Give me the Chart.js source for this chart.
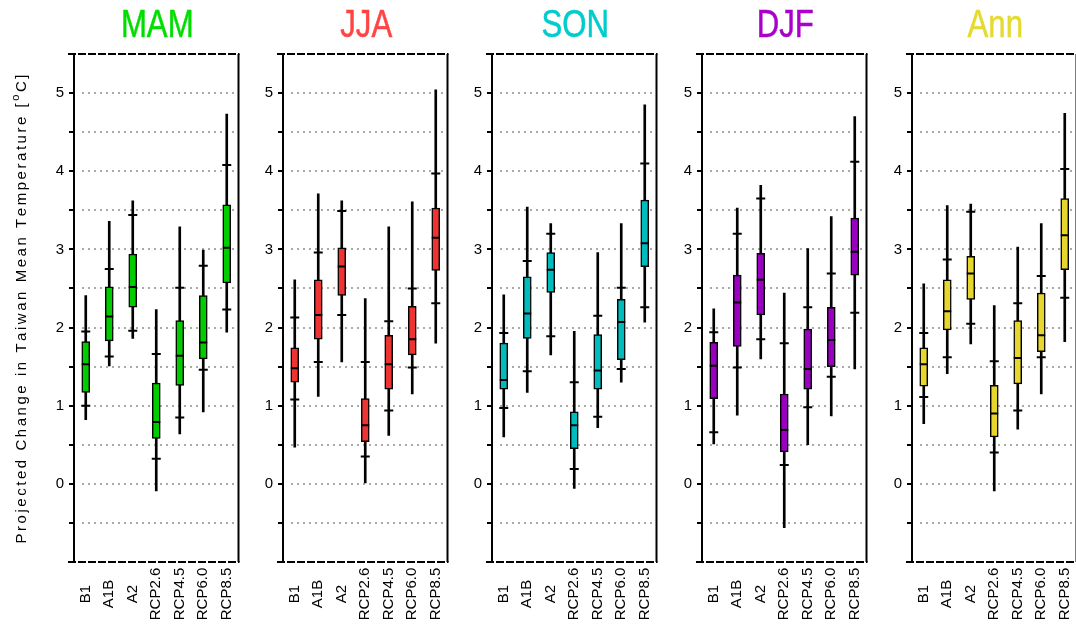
<!DOCTYPE html>
<html>
<head>
<meta charset="utf-8">
<script src="https://cdn.jsdelivr.net/npm/chart.js@4.4.0/dist/chart.umd.min.js"></script>
<style>
  html, body { margin: 0; padding: 0; background: #fff; overflow: hidden; width: 1076px; height: 624px; }
  canvas { position: absolute; top: 0; }
</style>
</head>
<body>
<script>
// ─── DATA ──────────────────────────────────────────────
const scenarios = ['B1', 'A1B', 'A2', 'RCP2.6', 'RCP4.5', 'RCP6.0', 'RCP8.5'];
const seasons = ['MAM', 'JJA', 'SON', 'DJF', 'Ann'];

// one row per season, one value per scenario
const minVals = [
  [0.82, 1.51, 1.86, -0.09, 0.64, 0.92, 1.94],
  [0.47, 1.12, 1.56, 0.00, 0.62, 1.15, 1.80],
  [0.60, 1.17, 1.65, -0.06, 0.72, 1.30, 2.07],
  [0.51, 0.88, 1.60, -0.56, 0.50, 0.87, 1.47],
  [0.77, 1.41, 1.79, -0.09, 0.70, 1.15, 1.82]
];
const p10Vals = [
  [1.00, 1.63, 1.96, 0.32, 0.85, 1.46, 2.23],
  [1.08, 1.56, 2.16, 0.35, 0.94, 1.49, 2.31],
  [0.97, 1.44, 1.89, 0.19, 0.86, 1.47, 2.26],
  [0.66, 1.49, 1.85, 0.24, 0.98, 1.37, 2.19],
  [1.11, 1.62, 2.05, 0.40, 0.94, 1.62, 2.38]
];
const q1Vals = [
  [1.17, 1.83, 2.26, 0.58, 1.26, 1.60, 2.57],
  [1.30, 1.85, 2.41, 0.54, 1.21, 1.65, 2.73],
  [1.21, 1.86, 2.45, 0.45, 1.21, 1.59, 2.78],
  [1.09, 1.76, 2.16, 0.41, 1.21, 1.50, 2.67],
  [1.25, 1.97, 2.36, 0.60, 1.28, 1.69, 2.74]
];
const medVals = [
  [1.53, 2.14, 2.52, 0.79, 1.64, 1.81, 3.02],
  [1.48, 2.16, 2.78, 0.75, 1.53, 1.85, 3.15],
  [1.33, 2.18, 2.74, 0.75, 1.45, 2.07, 3.08],
  [1.51, 2.32, 2.61, 0.69, 1.47, 1.84, 2.97],
  [1.53, 2.21, 2.69, 0.90, 1.61, 1.90, 3.18]
];
const q3Vals = [
  [1.82, 2.52, 2.94, 1.29, 2.09, 2.41, 3.57],
  [1.74, 2.61, 3.02, 1.09, 1.90, 2.27, 3.53],
  [1.80, 2.65, 2.96, 0.92, 1.91, 2.36, 3.63],
  [1.81, 2.67, 2.95, 1.15, 1.98, 2.26, 3.40],
  [1.74, 2.61, 2.91, 1.26, 2.09, 2.44, 3.65]
];
const p90Vals = [
  [1.95, 2.75, 3.44, 1.66, 2.51, 2.79, 4.08],
  [2.13, 2.96, 3.49, 1.56, 2.08, 2.50, 3.97],
  [1.93, 2.85, 3.20, 1.30, 2.15, 2.51, 4.10],
  [1.94, 3.20, 3.65, 1.80, 2.26, 2.69, 4.12],
  [1.93, 2.87, 3.48, 1.57, 2.31, 2.66, 4.03]
];
const maxVals = [
  [2.41, 3.36, 3.62, 2.23, 3.29, 2.99, 4.73],
  [2.61, 3.71, 3.62, 2.37, 3.29, 3.61, 5.04],
  [2.42, 3.54, 3.33, 1.95, 2.96, 3.33, 4.85],
  [2.24, 3.53, 3.82, 2.44, 3.01, 3.42, 4.70],
  [2.56, 3.56, 3.58, 2.28, 3.03, 3.33, 4.74]
];

const yMin = -1;
const yMax = 5.5;
const yStep = 0.5;

// ─── STYLE ─────────────────────────────────────────────
const titleColors = ['#00dd00', '#ff4444', '#00cccc', '#aa00cc', '#e4da30'];
const boxColors = ['#00cc00', '#ee3333', '#00bcbc', '#9900c0', '#e6d62e'];
const FONT = '"Liberation Sans", Arial, Helvetica, sans-serif';

// layout (pixels)
const plotLefts = [74, 283, 492, 702, 912];
const PLOT_W = 167;
const PLOT_TOP = 54;
const PLOT_BOTTOM = 562;
const PAGE_H = 624;

// ─── PANEL DECORATION PLUGIN ───────────────────────────
const panelDeco = {
  id: 'panelDeco',
  beforeDatasetsDraw(chart) {
    const { ctx, chartArea: a, scales: { y } } = chart;
    ctx.save();
    ctx.strokeStyle = '#aaaaaa';
    ctx.lineWidth = 2;
    ctx.setLineDash([2, 4]);
    y.ticks.forEach(t => {
      if (t.value <= yMin || t.value >= yMax) return;
      const py = Math.round(y.getPixelForValue(t.value));
      ctx.beginPath();
      ctx.moveTo(a.left + 8, py);
      ctx.lineTo(a.right - 4, py);
      ctx.stroke();
    });
    ctx.restore();
  },
  afterDraw(chart, args, opts) {
    const { ctx, chartArea: a, scales: { x } } = chart;
    ctx.save();

    // right border
    ctx.strokeStyle = '#000';
    ctx.lineWidth = 2;
    ctx.beginPath();
    ctx.moveTo(a.right, a.top);
    ctx.lineTo(a.right, a.bottom);
    ctx.stroke();

    // top and bottom borders (dashed look)
    ctx.setLineDash([8, 2]);
    [a.top, a.bottom].forEach(py => {
      ctx.beginPath();
      ctx.moveTo(a.left - 6, py);
      ctx.lineTo(a.right + 1, py);
      ctx.stroke();
    });
    ctx.setLineDash([]);

    // season title
    ctx.fillStyle = opts.titleColor;
    ctx.strokeStyle = opts.titleColor;
    ctx.lineWidth = 0.5;
    ctx.font = '38px ' + FONT;
    ctx.textAlign = 'center';
    ctx.textBaseline = 'alphabetic';
    ctx.save();
    ctx.translate((a.left + a.right) / 2 + 1, 37);
    ctx.scale(0.82, 1);
    ctx.fillText(opts.title, 0, 0);
    ctx.strokeText(opts.title, 0, 0);
    ctx.restore();

    // rotated scenario labels, centred under each box
    ctx.fillStyle = '#000';
    ctx.font = '15px ' + FONT;
    ctx.textBaseline = 'middle';
    scenarios.forEach((lab, i) => {
      ctx.save();
      ctx.translate(x.getPixelForValue(i), 594);
      ctx.rotate(-Math.PI / 2);
      ctx.fillText(lab, 0, 0);
      ctx.restore();
    });

    // y axis title only on first panel
    if (opts.yTitle) drawYTitle(ctx, 22, (a.top + a.bottom) / 2 + 1, 469);

    ctx.restore();
  }
};

// Spread the letters to the length used in the original figure
const drawYTitle = (ctx, cx, cy, targetLen) => {
  const parts = [
    { text: 'Projected Change in Taiwan Mean Temperature [', size: 15, dy: 0 },
    { text: 'o', size: 11, dy: -6 },
    { text: 'C]', size: 15, dy: 0 }
  ];
  const chars = [];
  parts.forEach(p => {
    ctx.font = p.size + 'px ' + FONT;
    for (const ch of p.text) {
      chars.push({ ch, size: p.size, dy: p.dy, w: ctx.measureText(ch).width });
    }
  });
  const natural = chars.reduce((s, c) => s + c.w, 0);
  const gap = (targetLen - natural) / (chars.length - 1);

  ctx.save();
  ctx.translate(cx, cy);
  ctx.rotate(-Math.PI / 2);
  ctx.fillStyle = '#000';
  ctx.textAlign = 'left';
  ctx.textBaseline = 'middle';
  let pos = -targetLen / 2;
  chars.forEach(c => {
    ctx.font = c.size + 'px ' + FONT;
    ctx.fillText(c.ch, pos, c.dy);
    pos += c.w + gap;
  });
  ctx.restore();
};

// ─── BUILD PANELS ──────────────────────────────────────
seasons.forEach((season, s) => {
  const yw = s === 0 ? 74 : 44;
  const canvas = document.createElement('canvas');
  canvas.width = yw + PLOT_W + 4;
  canvas.height = PAGE_H;
  canvas.style.left = (plotLefts[s] - yw) + 'px';
  document.body.appendChild(canvas);

  const tickSet = (vals, r) => ({
    type: 'line',
    data: vals,
    showLine: false,
    pointStyle: 'line',
    pointRadius: r,
    pointHoverRadius: r,
    pointBorderWidth: 2,
    pointBorderColor: '#000',
    pointBackgroundColor: '#000',
    order: 1
  });

  new Chart(canvas, {
    type: 'bar',
    data: {
      labels: scenarios,
      datasets: [
        {
          // whisker min..max
          data: minVals[s].map((v, i) => [v, maxVals[s][i]]),
          backgroundColor: '#000',
          borderWidth: 0,
          barThickness: 2,
          grouped: false,
          order: 4
        },
        {
          // box 25..75
          data: q1Vals[s].map((v, i) => [v, q3Vals[s][i]]),
          backgroundColor: boxColors[s],
          borderColor: '#000',
          borderWidth: 1.5,
          borderSkipped: false,
          barThickness: 8,
          grouped: false,
          order: 3
        },
        tickSet(medVals[s], 4),
        tickSet(p10Vals[s], 4.5),
        tickSet(p90Vals[s], 4.5)
      ]
    },
    options: {
      responsive: false,
      animation: false,
      devicePixelRatio: 1,
      layout: { padding: { top: PLOT_TOP, right: 4, left: 0, bottom: 0 } },
      plugins: {
        legend: { display: false },
        tooltip: { enabled: false },
        panelDeco: { title: season, titleColor: titleColors[s], yTitle: s === 0 }
      },
      scales: {
        x: {
          grid: { display: false },
          border: { display: false },
          ticks: { display: false },
          afterFit: sc => { sc.height = PAGE_H - PLOT_BOTTOM; }
        },
        y: {
          min: yMin,
          max: yMax,
          afterFit: sc => { sc.width = yw; },
          ticks: {
            stepSize: yStep,
            padding: 5,
            color: '#000',
            font: { family: FONT, size: 15 },
            // integers only, and no label on the bottom edge
            callback: v => (Number.isInteger(v) && v > yMin) ? v : ''
          },
          grid: {
            drawOnChartArea: false,
            drawTicks: true,
            tickLength: 5,
            color: '#000',
            lineWidth: 2
          },
          border: { color: '#000', width: 2 }
        }
      }
    },
    plugins: [panelDeco]
  });
});
</script>
</body>
</html>
